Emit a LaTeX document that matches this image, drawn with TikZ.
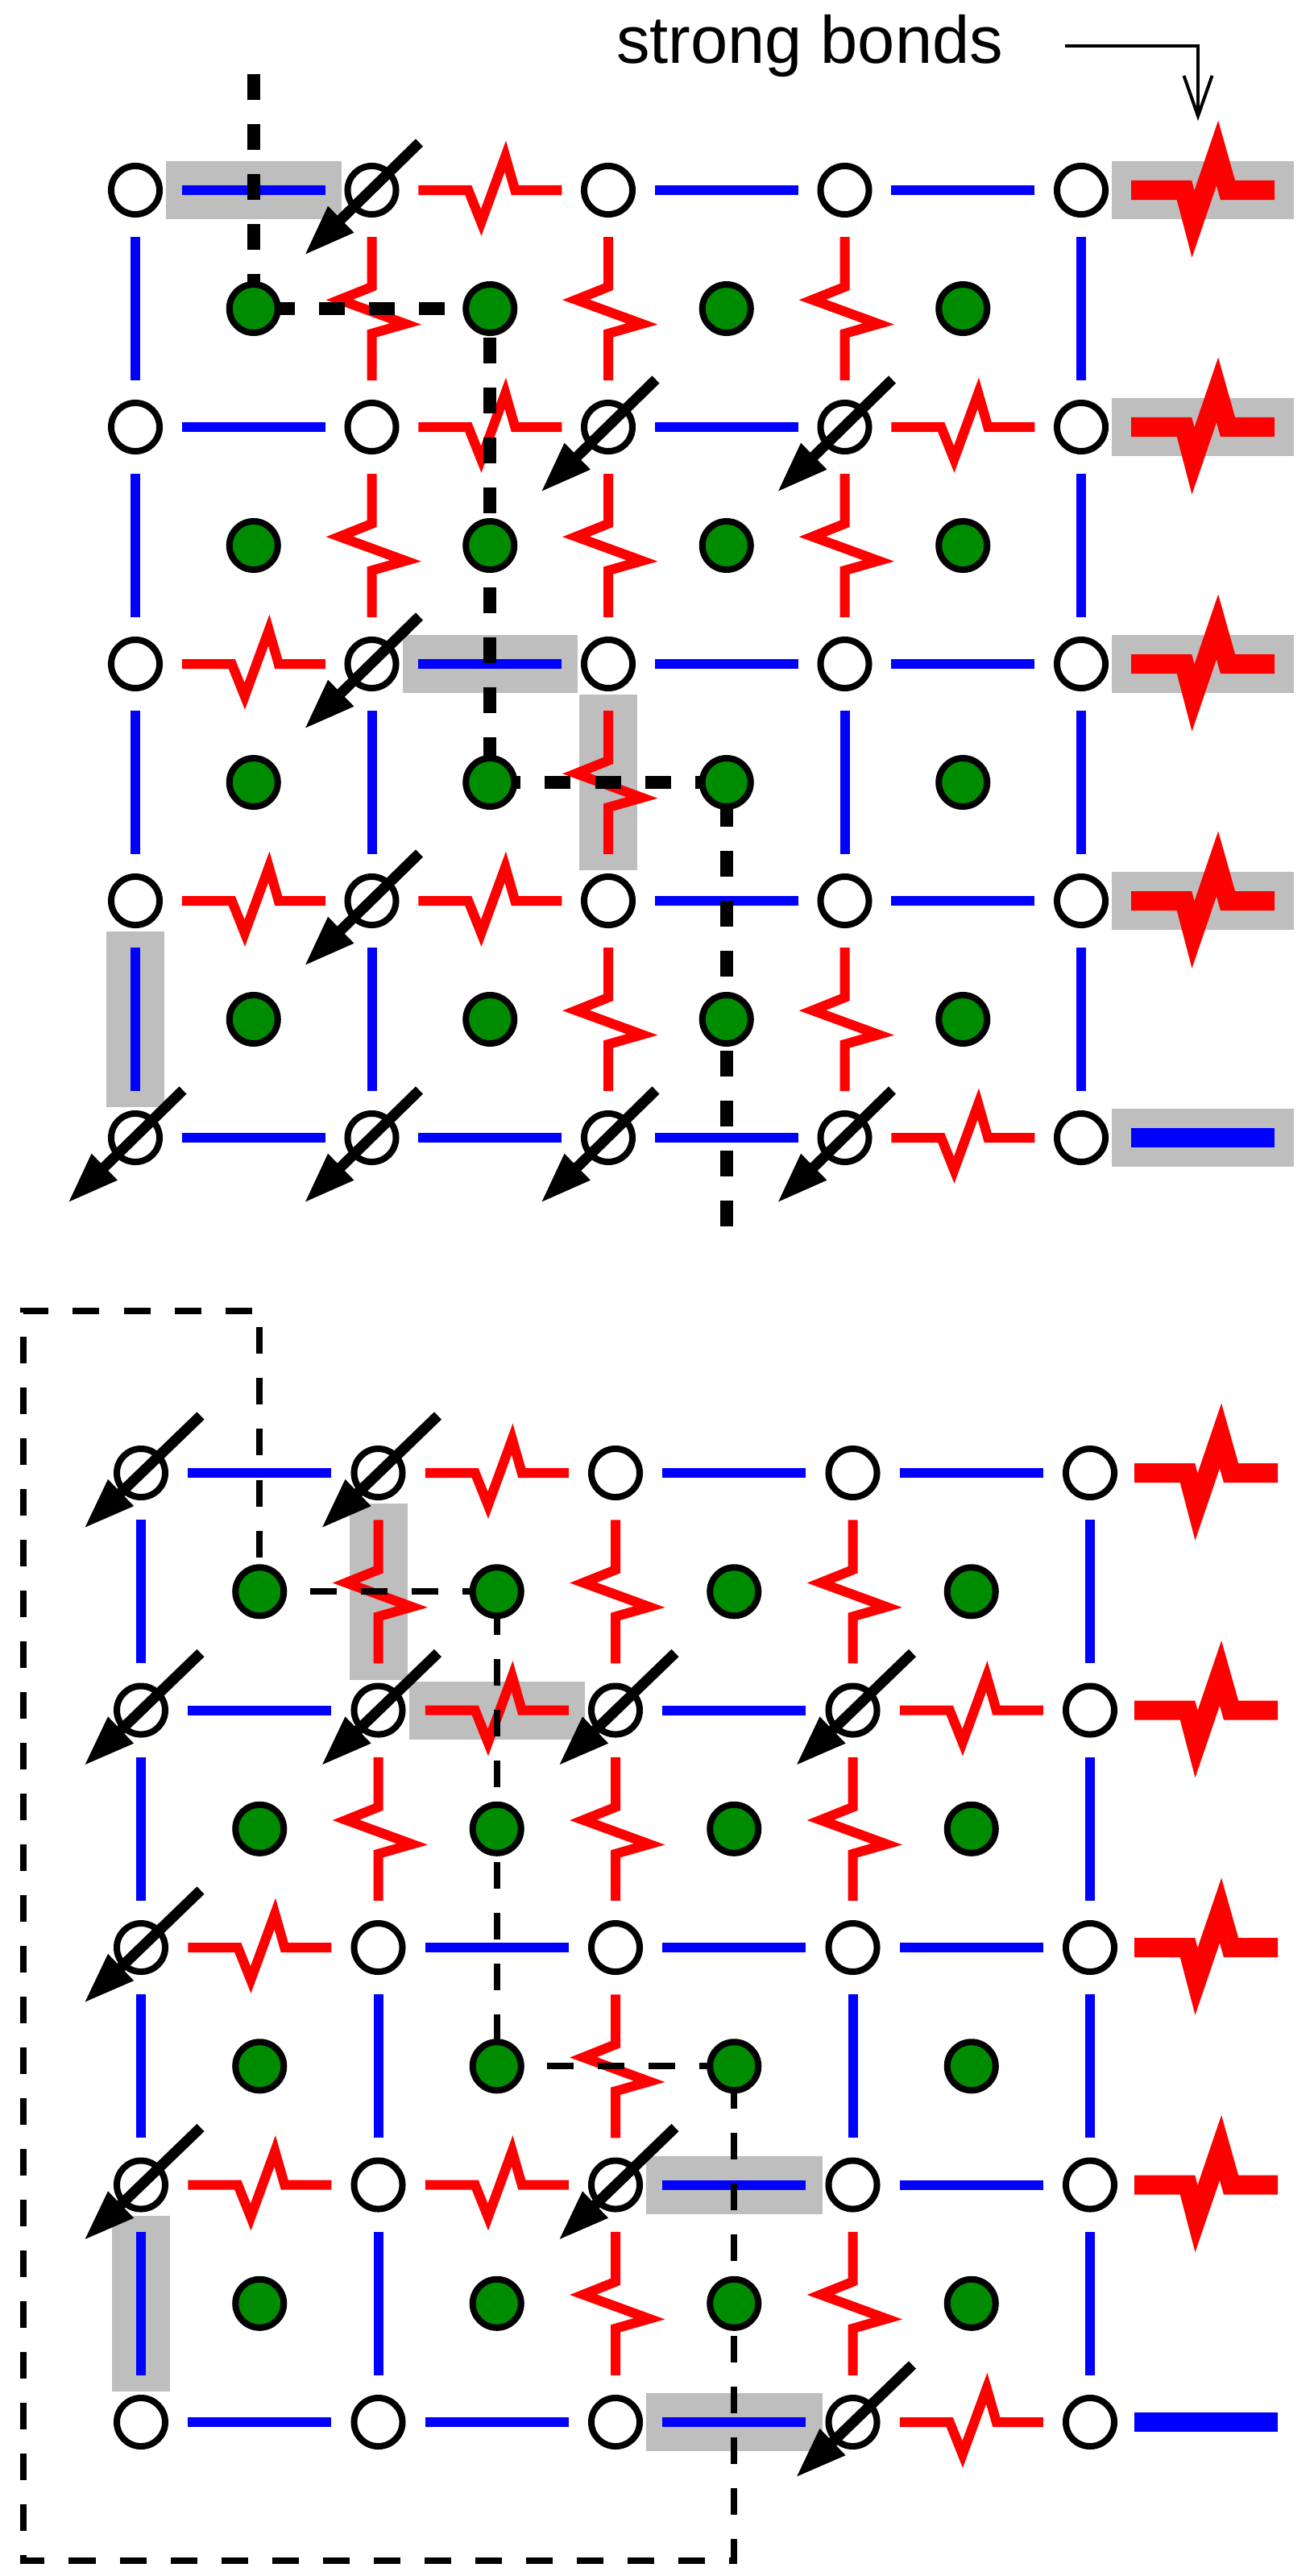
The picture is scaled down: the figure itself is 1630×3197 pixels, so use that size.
\documentclass[tikz,border=0pt]{standalone}
\usepackage{fontspec}
\setmainfont{Liberation Sans}
\usetikzlibrary{positioning}
\usetikzlibrary{calc}
\usetikzlibrary{arrows.meta}

\definecolor{dotgreen}{RGB}{0,140,0}
\definecolor{hlgray}{RGB}{190,190,190}

\tikzset{
  site/.style={circle,draw=black,fill=white,line width=.8mm,minimum size=6mm,inner sep=0pt},
  gsite/.style={site,fill=dotgreen},
  bb/.style={draw=blue,line width=1.2mm},
  zz/.style={draw=red,line width=1.2mm,line join=miter},
  hl/.style={fill=hlgray},
  spin/.style={line width=1.3mm,-{Triangle[length=6.4mm,width=4.2mm]}},
  tdash/.style={line width=1.6mm,dash pattern=on 3.2mm off 3mm},
  bdash/.style={line width=.8mm,dash pattern=on 3.3mm off 3mm},
  pics/bond/.style={code={\if#1R\draw[zz](-89,0)--(-27,0)--(-11,40)--(19,-42)--(31,0)--(89,0);\else\draw[bb](-89,0)--(89,0);\fi}},
  pics/endbond/.style={code={\if#1R\draw[zz,line width=2.4mm](-89,0)--(-23,0)--(-12,42)--(18,-46)--(31,0)--(89,0);\else\draw[bb,line width=2.4mm](-89,0)--(89,0);\fi}}
}

\newcommand{\hlh}[2]{\fill[hl] ($(#1)+(38,-36)$) rectangle ($(#2)+(-38,36)$);}
\newcommand{\hlv}[2]{\fill[hl] ($(#1)+(-36,38)$) rectangle ($(#2)+(36,-38)$);}

\begin{document}
\begin{tikzpicture}[x=0.01cm,y=-0.01cm]
\useasboundingbox (0,0) rectangle (1630,3197);

% lattice positions
\foreach \g/\x/\y/\dx/\dy in {t/168/236/293.5/294, b/175/1828/294.5/294.5}{
  \foreach \r in {0,...,4}
    \foreach \k in {0,...,4}
      \coordinate (\g\r\k) at ({\x+\k*\dx},{\y+\r*\dy});
  \foreach \r in {0,...,3}
    \foreach \k in {0,...,3}
      \coordinate (\g m\r\k) at ({\x+(\k+.5)*\dx},{\y+(\r+.5)*\dy});
}

% highlighted bonds
\hlh{t00}{t01}
\hlh{t21}{t22}
\hlv{t22}{t32}
\hlv{t30}{t40}
\foreach \r in {0,...,4}
  \fill[hl] ($(t\r4)+(38,-36)$) rectangle ($(t\r4)+(264,36)$);
\hlv{b01}{b11}
\hlh{b11}{b12}
\hlh{b32}{b33}
\hlh{b42}{b43}
\hlv{b30}{b40}

% bonds
\foreach \g/\ex in {t/151,b/144}{
  \foreach \r/\ba/\bb/\bc/\bd/\be in {0/B/R/B/B/R,1/B/R/B/R/R,2/R/B/B/B/R,3/R/R/B/B/R,4/B/B/B/R/B}{
    \foreach \t [count=\kk] in {\ba,\bb,\bc,\bd}{
      \pgfmathtruncatemacro\k{\kk-1}
      \path (\g\r\k) -- (\g\r\kk) pic[pos=.5,sloped]{bond=\t};
    }
    \path ($(\g\r4)+(\ex,0)$) pic{endbond=\be};
  }
  \foreach \r/\rr/\va/\vb/\vc/\vd/\ve in {0/1/B/R/R/R/B,1/2/B/R/R/R/B,2/3/B/B/R/B/B,3/4/B/B/R/R/B}{
    \foreach \t [count=\kk] in {\va,\vb,\vc,\vd,\ve}{
      \pgfmathtruncatemacro\k{\kk-1}
      \path (\g\r\k) -- (\g\rr\k) pic[pos=.5,sloped]{bond=\t};
    }
  }
}

% paths
\draw[tdash] (tm00 |- 0,92) -- (tm00.center) -- (tm01.center) -- (tm21.center) -- (tm22.center) -- (tm22 |- 0,1550);
\draw[bdash] (bm00.center) -- (bm01.center) -- (bm21.center) -- (bm22.center) -- (bm22 |- 0,3178) -- (29,3178) -- (29,1627) -- (bm00 |- 0,1627) -- cycle;

% sites
\foreach \g in {t,b}{
  \foreach \r in {0,...,4}
    \foreach \k in {0,...,4}
      \node[site] (\g s\r\k) at (\g\r\k) {};
  \foreach \r in {0,...,3}
    \foreach \k in {0,...,3}
      \node[gsite] (\g g\r\k) at (\g m\r\k) {};
}

% spins
\foreach \n in {t01,t12,t13,t21,t31,t40,t41,t42,t43}
  \draw[spin] ($(\n)+(59,-59)$) -- ($(\n)+(-84,81)$);
\foreach \n in {b00,b01,b10,b11,b12,b13,b20,b30,b32,b43}
  \draw[spin] ($(\n)+(74,-71)$) -- ($(\n)+(-71,69)$);

% label
\node[font=\fontsize{23.6}{28}\selectfont] (lbl) at (1005,57) {strong bonds};
\coordinate (sbtip) at (1487,150);
\draw[line width=.4mm,-{Straight Barb[length=5mm,width=3.5mm]}] ([xshift=.65cm]lbl.east) -| (sbtip);
\end{tikzpicture}
\end{document}
